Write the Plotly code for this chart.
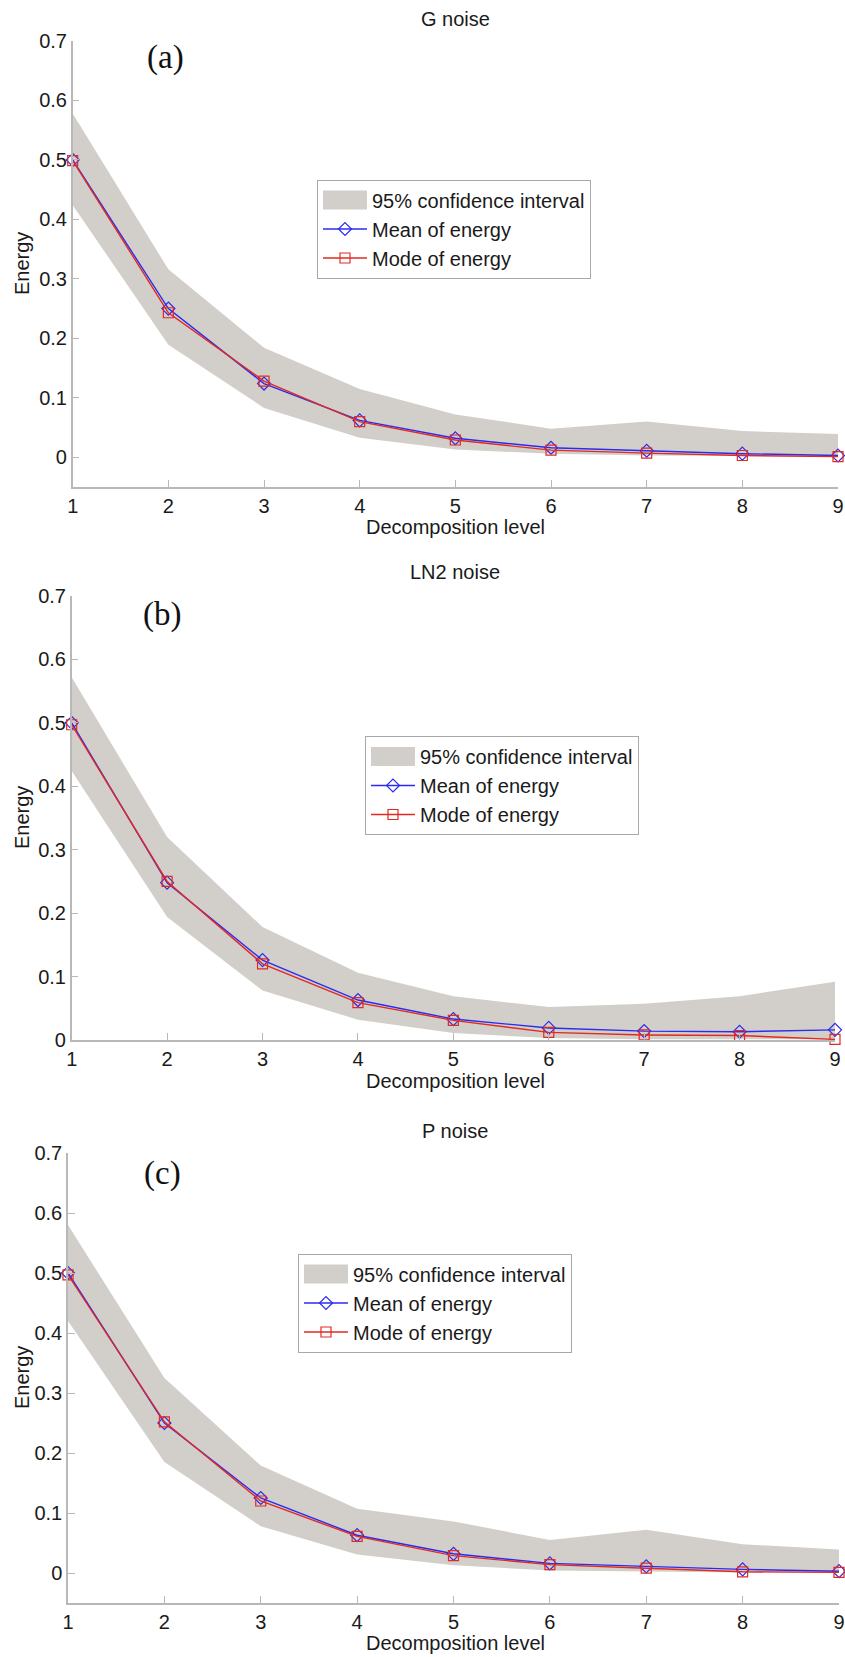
import plotly.graph_objects as go

# ---------------- data ----------------
levels = [1, 2, 3, 4, 5, 6, 7, 8, 9]

titles = ["G noise", "LN2 noise", "P noise"]
panel_tags = ["(a)", "(b)", "(c)"]
x_title = "Decomposition level"
y_title = "Energy"
x_tick_labels = ["1", "2", "3", "4", "5", "6", "7", "8", "9"]
y_tick_vals = [0, 0.1, 0.2, 0.3, 0.4, 0.5, 0.6, 0.7]
y_tick_labels = ["0", "0.1", "0.2", "0.3", "0.4", "0.5", "0.6", "0.7"]

# (a) G noise
g_mean = [0.500, 0.250, 0.124, 0.062, 0.032, 0.016, 0.011, 0.006, 0.003]
g_mode = [0.499, 0.243, 0.128, 0.060, 0.029, 0.012, 0.007, 0.003, 0.001]
g_upper = [0.578, 0.316, 0.184, 0.115, 0.072, 0.048, 0.060, 0.044, 0.039]
g_lower = [0.424, 0.189, 0.083, 0.033, 0.013, 0.006, 0.003, 0.002, 0.001]

# (b) LN2 noise
ln_mean = [0.500, 0.248, 0.126, 0.063, 0.033, 0.019, 0.014, 0.013, 0.016]
ln_mode = [0.497, 0.250, 0.120, 0.059, 0.031, 0.012, 0.008, 0.007, 0.001]
ln_upper = [0.572, 0.320, 0.178, 0.106, 0.069, 0.052, 0.057, 0.069, 0.092]
ln_lower = [0.424, 0.194, 0.078, 0.032, 0.011, 0.003, 0.001, 0.001, 0.001]

# (c) P noise
p_mean = [0.500, 0.250, 0.125, 0.063, 0.032, 0.016, 0.011, 0.006, 0.003]
p_mode = [0.497, 0.252, 0.120, 0.061, 0.029, 0.014, 0.008, 0.002, 0.001]
p_upper = [0.580, 0.325, 0.179, 0.107, 0.086, 0.055, 0.072, 0.048, 0.039]
p_lower = [0.420, 0.185, 0.078, 0.031, 0.013, 0.004, 0.003, 0.001, 0.001]

y_ranges = [[-0.05, 0.7], [0.0, 0.7], [-0.05, 0.7]]

# ---------------- style / layout ----------------
W, H = 845, 1657
FONT = "Arial, Liberation Sans, Helvetica, sans-serif"
SERIF = "Times New Roman, Liberation Serif, serif"
TXT = "#1a1a1a"
AX = "#b8b8b8"
BAND = "#d2cfca"
BLUE = "#2b2bf0"
RED = "#e02a22"

# plot areas in pixels: (left, right, top, bottom)
areas = [(72.7, 838, 41, 487), (71.7, 835, 596, 1040), (68, 839, 1153, 1603)]
title_y = [19, 572, 1130.5]
xtitle_y = [527, 1081, 1643]
tag_pos = [(165, 57), (162, 615), (162, 1173)]
legend_pos = [(317, 179.5), (365, 736), (298, 1253.5)]  # left, top (px)
ITEMW = 44
ROW1 = 20.5      # centre of first legend row below legend top (px)
PATCH_H = 19

panels = [
    (g_mean, g_mode, g_upper, g_lower),
    (ln_mean, ln_mode, ln_upper, ln_lower),
    (p_mean, p_mode, p_upper, p_lower),
]

fig = go.Figure()
legend_keys = ["legend", "legend2", "legend3"]
annotations = []
shapes = []

for i, (mean, mode, upper, lower) in enumerate(panels):
    sfx = "" if i == 0 else str(i + 1)
    xa, ya = "x" + sfx, "y" + sfx
    lg = legend_keys[i]

    # confidence band (area between upper and lower bounds)
    fig.add_trace(go.Scatter(
        x=levels + levels[::-1], y=upper + lower[::-1],
        fill="toself", fillcolor=BAND, line=dict(width=0, color=BAND),
        mode="lines", name="95% confidence interval", showlegend=False,
        legendgroup="band%d" % i,
        xaxis=xa, yaxis=ya, legend=lg, hoverinfo="skip"))
    # legend entry for the band
    fig.add_trace(go.Scatter(
        x=[None], y=[None], mode="lines", name="95% confidence interval",
        line=dict(color=BAND, width=5), legendgroup="band%d" % i,
        xaxis=xa, yaxis=ya, legend=lg))
    fig.add_trace(go.Scatter(
        x=levels, y=mean, mode="lines+markers", name="Mean of energy",
        line=dict(color=BLUE, width=1.4),
        marker=dict(symbol="diamond-open", size=10, color=BLUE, line=dict(width=1.2, color=BLUE)),
        xaxis=xa, yaxis=ya, legend=lg, cliponaxis=False))
    fig.add_trace(go.Scatter(
        x=levels, y=mode, mode="lines+markers", name="Mode of energy",
        line=dict(color=RED, width=1.4),
        marker=dict(symbol="square-open", size=10, color=RED, line=dict(width=1.2, color=RED)),
        xaxis=xa, yaxis=ya, legend=lg, cliponaxis=False))

    l, r, t, b = areas[i]
    xdom = [l / W, r / W]
    ydom = [1 - b / H, 1 - t / H]
    common_ax = dict(showgrid=False, zeroline=False, showline=True, linecolor=AX,
                     linewidth=1.5, ticks="inside", ticklen=7, tickcolor=AX, tickwidth=1.2,
                     tickfont=dict(family=FONT, size=20, color=TXT), mirror=False,
                     automargin=False, ticklabeloverflow="allow")
    fig.update_layout(**{
        "xaxis" + sfx: dict(common_ax, domain=xdom, anchor=ya, range=[1, 9],
                            tickvals=levels, ticktext=x_tick_labels),
        "yaxis" + sfx: dict(common_ax, domain=ydom, anchor=xa, range=y_ranges[i],
                            tickvals=y_tick_vals, ticktext=y_tick_labels),
    })

    annotations.append(dict(text=titles[i], x=455 / W, y=1 - title_y[i] / H,
                            xref="paper", yref="paper", xanchor="center", yanchor="middle",
                            showarrow=False, font=dict(family=FONT, size=20, color=TXT)))
    annotations.append(dict(text=x_title, x=455 / W, y=1 - xtitle_y[i] / H,
                            xref="paper", yref="paper", xanchor="center", yanchor="middle",
                            showarrow=False, font=dict(family=FONT, size=20, color=TXT)))
    annotations.append(dict(text=y_title, x=22 / W, y=1 - (t + b) / 2 / H, textangle=-90,
                            xref="paper", yref="paper", xanchor="center", yanchor="middle",
                            showarrow=False, font=dict(family=FONT, size=20, color=TXT)))
    tx, ty = tag_pos[i]
    annotations.append(dict(text=panel_tags[i], x=tx / W, y=1 - ty / H,
                            xref="paper", yref="paper", xanchor="center", yanchor="middle",
                            showarrow=False, font=dict(family=SERIF, size=33, color="#111111")))

    lx, ly = legend_pos[i]
    fig.update_layout(**{lg: dict(x=lx / W, y=1 - ly / H, xanchor="left", yanchor="top",
                                  xref="paper", yref="paper",
                                  bgcolor="rgba(0,0,0,0)", bordercolor="#a8a8a8", borderwidth=1,
                                  font=dict(family=FONT, size=20, color=TXT),
                                  itemwidth=ITEMW, tracegroupgap=0)})
    # wide grey swatch for the confidence-interval legend entry
    cy = ly + ROW1
    shapes.append(dict(type="rect", xref="paper", yref="paper", layer="above",
                       x0=(lx + 6) / W, x1=(lx + 6 + ITEMW) / W,
                       y0=1 - (cy + PATCH_H / 2) / H, y1=1 - (cy - PATCH_H / 2) / H,
                       fillcolor=BAND, line=dict(width=0)))

fig.update_layout(width=W, height=H, margin=dict(l=0, r=0, t=0, b=0),
                  paper_bgcolor="white", plot_bgcolor="white",
                  annotations=annotations, shapes=shapes, showlegend=True)

fig.write_html("out.html", config={"displayModeBar": False},
               post_script="document.body.style.margin='0';document.body.style.overflow='hidden';")
